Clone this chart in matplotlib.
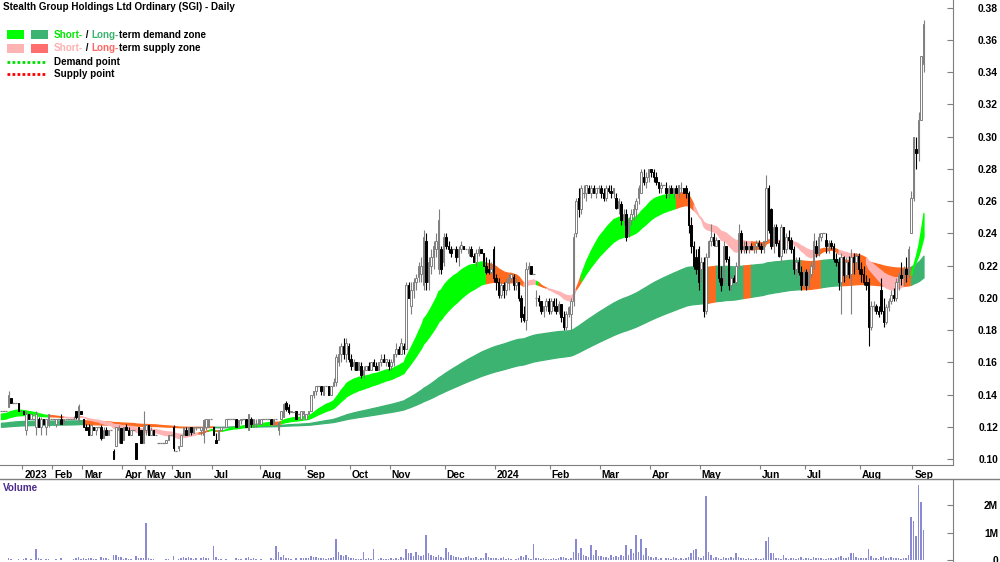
import numpy as np
import matplotlib
matplotlib.use("Agg")
import matplotlib.pyplot as plt
import matplotlib.transforms as mtransforms
from matplotlib.patches import Rectangle
from matplotlib.lines import Line2D

plt.rcParams['font.family'] = ['Liberation Sans', 'DejaVu Sans']
FS = 7.4      # axis labels
FS_TXT = 7.1  # title and legend

title = "Stealth Group Holdings Ltd Ordinary (SGI) - Daily"
month_labels = ["", "2023", "Feb", "Mar", "Apr", "May", "Jun", "Jul", "Aug", "Sep", "Oct",
                "Nov", "Dec", "2024", "Feb", "Mar", "Apr", "May", "Jun", "Jul", "Aug", "Sep"]
bars_per_month = [9, 12, 12, 16, 9, 11, 16, 19, 18, 18, 16, 22, 20, 22, 20, 20, 20, 24, 18, 22, 21, 5]

# prices in thousandths of a dollar, one row per month
opens = [
    130, 130, 130, 132, 138, 135, 135, 135, 130,
    130, 118, 128, 125, 125, 120, 125, 120, 125, 120, 122, 125,
    125, 122, 125, 125, 122, 125, 125, 125, 125, 130, 124, 130,
    125, 120, 120, 115, 120, 118, 120, 120, 113, 118, 115, 118, 105, 108, 118, 119,
    112, 120, 118, 115, 118, 110, 120, 118, 110,
    118, 121, 115, 118, 115, 110, 110, 110, 110, 112, 115,
    120, 105, 107, 108, 115, 118, 115, 120, 116, 120, 120, 118, 115, 120, 120, 125,
    120, 112, 112, 118, 120, 120, 125, 125, 125, 125, 120, 124, 125, 125, 118, 125, 120, 122, 122,
    122, 125, 125, 125, 125, 122, 125, 118, 125, 126, 135, 132, 129, 129, 130, 128, 125, 128,
    125, 128, 130, 140, 142, 145, 145, 140, 145, 145, 140, 145, 148, 160, 165, 170, 165, 170,
    162, 158, 160, 155, 158, 152, 155, 158, 155, 160, 158, 155, 160, 162, 160, 160,
    158, 160, 165, 168, 165, 170, 168, 208, 195, 205, 210, 213, 215, 208, 235, 210, 220, 225, 230, 218, 230, 222,
    238, 232, 230, 230, 230, 225, 230, 232, 230, 228, 230, 226, 222, 228, 230, 228, 220, 218, 216, 230,
    212, 210, 202, 208, 205, 210, 212, 213, 208, 210, 200, 190, 186, 218, 220, 215, 200, 200, 198, 192, 195, 198,
    192, 198, 195, 192, 196, 188, 182, 190, 190, 198, 240, 262, 255, 265, 265, 268, 265, 268, 265, 268,
    268, 265, 262, 268, 266, 265, 262, 256, 258, 248, 252, 240, 248, 252, 255, 262, 265, 275, 272, 275,
    280, 278, 275, 272, 268, 270, 268, 265, 268, 265, 268, 265, 268, 268, 268, 265, 245, 232, 225, 230,
    218, 222, 192, 225, 235, 238, 232, 236, 212, 210, 232, 224, 208, 212, 210, 220, 240, 230, 232, 230, 232, 230, 232, 234,
    232, 230, 235, 268, 255, 232, 244, 234, 226, 244, 230, 238, 236, 230, 218, 222, 216, 208,
    216, 208, 215, 220, 232, 228, 238, 240, 236, 232, 234, 232, 224, 222, 210, 225, 214, 222, 215, 225, 222, 226,
    218, 215, 210, 210, 182, 195, 195, 192, 205, 192, 185, 194, 198, 202, 200, 210, 214, 212, 218, 215, 240,
    262, 292, 290, 310, 345,
]
highs = [
    130, 130, 130, 142, 138, 135, 135, 135, 130,
    130, 130, 128, 128, 125, 130, 126, 126, 125, 125, 128, 125,
    125, 125, 125, 128, 125, 125, 125, 125, 127, 130, 134, 130,
    125, 122, 122, 122, 120, 120, 120, 121, 120, 120, 118, 118, 106, 120, 121, 119,
    120, 122, 120, 118, 118, 110, 120, 118, 130,
    121, 121, 120, 118, 115, 110, 110, 110, 112, 115, 115,
    121, 105, 108, 115, 120, 120, 120, 120, 120, 120, 120, 120, 125, 125, 125, 125,
    120, 116, 118, 120, 120, 125, 125, 125, 125, 125, 124, 125, 125, 125, 128, 126, 125, 125, 125,
    125, 125, 125, 125, 125, 125, 125, 123, 130, 135, 136, 134, 130, 129, 130, 128, 130, 130,
    128, 130, 140, 142, 145, 145, 145, 145, 145, 145, 145, 150, 165, 170, 172, 175, 175, 172,
    165, 162, 160, 160, 160, 158, 158, 160, 160, 162, 160, 160, 165, 165, 162, 162,
    162, 165, 172, 170, 175, 172, 210, 210, 210, 212, 215, 222, 225, 242, 240, 225, 230, 235, 240, 255, 232, 240,
    240, 235, 232, 230, 232, 232, 235, 232, 230, 232, 232, 228, 230, 232, 230, 228, 225, 224, 222, 232,
    215, 212, 210, 210, 212, 215, 215, 215, 212, 210, 202, 195, 222, 222, 220, 215, 205, 202, 198, 195, 200, 200,
    200, 200, 200, 198, 196, 192, 192, 195, 200, 240, 262, 268, 270, 270, 270, 270, 270, 270, 268, 270,
    270, 268, 270, 270, 270, 268, 265, 262, 260, 255, 255, 250, 255, 258, 262, 270, 280, 280, 278, 280,
    280, 280, 278, 272, 272, 270, 272, 270, 270, 268, 270, 270, 272, 268, 270, 266, 250, 235, 230, 232,
    225, 225, 228, 236, 246, 240, 238, 236, 220, 235, 232, 226, 214, 214, 222, 246, 242, 235, 235, 232, 234, 232, 236, 236,
    234, 235, 276, 270, 256, 246, 246, 236, 246, 244, 240, 242, 238, 232, 225, 225, 220, 218,
    218, 218, 222, 240, 236, 240, 240, 240, 240, 236, 236, 234, 228, 225, 228, 226, 225, 226, 230, 228, 228, 228,
    222, 220, 214, 212, 198, 198, 196, 195, 212, 200, 196, 200, 205, 206, 212, 216, 222, 220, 225, 232, 266,
    300, 300, 315, 350, 372,
]
lows = [
    130, 130, 130, 132, 135, 135, 135, 130, 130,
    128, 115, 125, 125, 125, 115, 120, 115, 122, 115, 120, 125,
    125, 120, 125, 122, 122, 125, 125, 125, 125, 125, 123, 128,
    120, 118, 115, 115, 118, 115, 120, 112, 113, 115, 115, 118, 100, 108, 110, 110,
    112, 118, 115, 115, 118, 100, 115, 110, 110,
    115, 115, 115, 115, 115, 110, 110, 110, 110, 112, 115,
    105, 105, 105, 108, 115, 115, 115, 115, 116, 118, 120, 115, 110, 118, 120, 125,
    115, 110, 112, 118, 120, 120, 125, 125, 125, 120, 120, 122, 125, 120, 118, 120, 120, 120, 122,
    122, 125, 125, 125, 122, 122, 125, 115, 125, 126, 130, 128, 129, 129, 125, 128, 125, 126,
    125, 128, 130, 138, 140, 145, 140, 140, 145, 140, 140, 145, 145, 158, 160, 162, 160, 160,
    155, 155, 155, 155, 150, 150, 155, 155, 155, 158, 155, 155, 158, 160, 158, 155,
    155, 158, 163, 165, 165, 165, 168, 200, 190, 200, 205, 210, 210, 205, 205, 205, 215, 218, 225, 215, 215, 220,
    230, 228, 225, 230, 222, 220, 228, 230, 230, 226, 225, 222, 220, 226, 228, 220, 215, 215, 215, 210,
    205, 200, 200, 200, 202, 205, 210, 205, 205, 198, 185, 185, 180, 215, 215, 215, 195, 195, 190, 188, 192, 190,
    190, 192, 190, 190, 185, 180, 180, 188, 180, 195, 238, 250, 252, 262, 260, 265, 262, 265, 262, 265,
    262, 260, 260, 265, 262, 262, 255, 252, 245, 245, 235, 238, 245, 248, 250, 258, 265, 270, 268, 272,
    275, 272, 270, 265, 265, 270, 262, 262, 265, 262, 265, 262, 265, 265, 262, 240, 228, 218, 215, 205,
    210, 188, 190, 225, 232, 232, 232, 210, 204, 208, 222, 205, 204, 210, 208, 218, 228, 228, 228, 228, 230, 228, 228, 230,
    228, 228, 235, 240, 230, 228, 232, 225, 222, 228, 228, 230, 228, 215, 212, 214, 205, 206,
    205, 206, 212, 218, 225, 226, 235, 240, 228, 228, 230, 222, 220, 205, 190, 210, 212, 212, 190, 215, 218, 215,
    210, 208, 205, 170, 180, 192, 190, 188, 190, 182, 184, 192, 196, 198, 198, 205, 208, 208, 210, 212, 240,
    260, 280, 285, 310, 340,
]
closes = [
    130, 130, 130, 140, 135, 135, 135, 130, 130,
    128, 128, 125, 128, 125, 128, 120, 125, 122, 125, 128, 125,
    125, 125, 125, 122, 125, 125, 125, 125, 125, 126, 133, 128,
    120, 118, 115, 121, 118, 120, 120, 113, 118, 115, 118, 118, 100, 120, 120, 110,
    120, 118, 115, 118, 118, 100, 115, 110, 120,
    121, 115, 118, 115, 115, 110, 110, 110, 112, 115, 115,
    107, 105, 108, 115, 120, 115, 120, 117, 120, 120, 120, 120, 124, 125, 125, 125,
    115, 110, 118, 120, 120, 125, 125, 125, 125, 120, 124, 125, 125, 120, 128, 122, 125, 122, 125,
    125, 125, 125, 125, 122, 125, 125, 123, 130, 134, 131, 129, 130, 129, 125, 128, 130, 130,
    128, 130, 140, 142, 145, 145, 142, 145, 145, 140, 145, 148, 163, 165, 170, 165, 172, 162,
    158, 160, 155, 160, 152, 155, 158, 155, 160, 158, 155, 160, 162, 160, 162, 158,
    160, 165, 168, 165, 172, 168, 208, 200, 205, 210, 212, 220, 220, 238, 210, 222, 225, 232, 235, 248, 218, 238,
    232, 230, 228, 230, 225, 230, 233, 230, 230, 230, 226, 222, 228, 230, 228, 220, 216, 216, 218, 212,
    210, 202, 208, 205, 210, 212, 215, 208, 210, 200, 188, 186, 218, 220, 215, 215, 200, 198, 192, 195, 198, 192,
    198, 195, 192, 196, 188, 182, 190, 194, 198, 238, 260, 255, 268, 265, 270, 265, 268, 265, 268, 268,
    265, 262, 268, 266, 265, 268, 256, 260, 248, 252, 238, 248, 252, 255, 260, 268, 278, 272, 275, 280,
    278, 275, 272, 268, 270, 270, 265, 268, 265, 268, 265, 270, 268, 265, 265, 245, 232, 220, 218, 210,
    222, 192, 225, 235, 238, 233, 236, 212, 208, 232, 224, 208, 212, 210, 220, 240, 230, 232, 230, 232, 230, 232, 234, 232,
    230, 235, 268, 242, 232, 244, 234, 226, 244, 230, 238, 236, 230, 218, 222, 216, 208, 216,
    208, 215, 220, 235, 228, 238, 240, 240, 232, 234, 232, 224, 222, 210, 225, 214, 222, 215, 225, 222, 226, 218,
    215, 210, 208, 182, 195, 195, 192, 190, 192, 185, 194, 198, 202, 200, 210, 214, 212, 218, 215, 230, 262,
    300, 290, 310, 350, 370,
]
# volume in thousands of shares
volume_k = [
    20, 10, 15, 60, 30, 10, 5, 40, 10,
    30, 80, 20, 40, 10, 400, 60, 30, 20, 50, 40, 10,
    10, 30, 10, 60, 20, 10, 10, 10, 30, 70, 120, 40,
    60, 40, 80, 60, 30, 50, 20, 100, 90, 60, 40, 10, 200, 180, 100, 120,
    50, 60, 40, 30, 10, 150, 60, 70, 90,
    1350, 80, 40, 30, 20, 10, 10, 10, 30, 40, 20,
    150, 10, 40, 60, 120, 80, 100, 60, 40, 60, 20, 80, 120, 90, 60, 10,
    500, 100, 40, 30, 10, 40, 10, 10, 10, 60, 40, 30, 10, 60, 120, 40, 60, 30, 20,
    40, 10, 10, 10, 60, 40, 500, 300, 120, 200, 90, 60, 30, 10, 80, 20, 60, 70,
    80, 60, 150, 120, 100, 60, 90, 60, 40, 60, 80, 120, 760, 300, 200, 150, 180, 100,
    80, 60, 40, 30, 50, 300, 40, 60, 30, 400, 20, 40, 60, 30, 50, 40,
    60, 40, 80, 50, 120, 60, 400, 250, 250, 150, 300, 180, 150, 200, 900, 250, 200, 150, 120, 180, 100, 80,
    450, 300, 200, 150, 100, 120, 80, 60, 100, 150, 80, 60, 100, 40, 60, 80, 250, 100, 60, 80,
    60, 40, 80, 100, 30, 60, 40, 20, 40, 80, 150, 100, 200, 60, 40, 600, 80, 60, 40, 60, 30, 40,
    40, 60, 30, 80, 120, 100, 60, 40, 80, 300, 770, 250, 450, 200, 150, 120, 550, 200, 350, 150,
    150, 100, 120, 80, 200, 100, 150, 120, 200, 150, 550, 200, 400, 250, 900, 300, 750, 200, 450, 150,
    120, 60, 100, 40, 60, 20, 80, 60, 40, 100, 60, 30, 80, 40, 60, 120, 250, 350, 400, 100,
    60, 150, 2330, 300, 200, 80, 100, 60, 40, 120, 60, 80, 100, 60, 250, 120, 60, 80, 40, 60, 40, 30, 60, 40,
    40, 60, 700, 840, 250, 250, 80, 60, 40, 200, 60, 40, 80, 60, 40, 60, 100, 50,
    60, 80, 40, 100, 60, 80, 60, 30, 40, 60, 80, 40, 60, 100, 150, 80, 60, 100, 250, 250, 100, 60,
    60, 80, 60, 400, 150, 60, 80, 40, 100, 150, 80, 60, 100, 60, 80, 60, 40, 60, 80, 200, 1560,
    1420, 870, 2720, 2100, 1090,
]

# zone averages (EMA spans) and their values at the first bar
short_spans = (24, 45)
long_spans = (150, 250)
short_seed = (0.1282, 0.1247)
long_seed = (0.1225, 0.1200)

# zone colour states: (first bar, last bar, state)
short_states = [(0, 18, 'demand'), (19, 24, 'turn'), (25, 78, 'supply'), (79, 82, 'turn'),
                (83, 85, 'demand'), (86, 87, 'turn'), (88, 107, 'demand'), (108, 111, 'turn'),
                (112, 193, 'demand'), (194, 208, 'turn'), (209, 213, 'supply'), (214, 214, 'demand'),
                (215, 217, 'turn'), (218, 229, 'supply'), (230, 231, 'turn'), (232, 269, 'demand'),
                (270, 276, 'turn'), (277, 299, 'supply'), (300, 308, 'turn'), (309, 325, 'supply'),
                (326, 334, 'turn'), (335, 340, 'supply'), (341, 345, 'turn'), (346, 360, 'supply'),
                (361, 363, 'turn'), (364, 369, 'demand')]
long_states = [(0, 32, 'demand'), (33, 84, 'turn'), (85, 282, 'demand'), (283, 285, 'turn'),
               (286, 296, 'demand'), (297, 299, 'turn'), (300, 319, 'demand'), (320, 327, 'turn'),
               (328, 335, 'demand'), (336, 363, 'turn'), (364, 369, 'demand')]

BRIGHT = '#00FF00'
DARK = '#3CB371'
PINK = '#FFB4B4'
SALMON = '#FF6E6E'
ORANGE = '#FF6A1F'
short_colors = {'demand': BRIGHT, 'turn': ORANGE, 'supply': PINK}
long_colors = {'demand': DARK, 'turn': ORANGE, 'supply': SALMON}

o = np.array(opens) / 1000
h = np.array(highs) / 1000
l = np.array(lows) / 1000
c = np.array(closes) / 1000
vol = np.array(volume_k) * 1000.0
n = len(c)
idx = np.arange(n)
assert len(o) == len(h) == len(l) == n == len(vol) == sum(bars_per_month)


def ema(values, span, seed):
    a = 2.0 / (span + 1)
    out = np.empty(len(values))
    prev = seed
    for i, v in enumerate(values):
        if i:
            prev = prev + a * (v - prev)
        out[i] = prev
    return out


s_fast = ema(c, short_spans[0], short_seed[0])
s_slow = ema(c, short_spans[1], short_seed[1])
l_fast = ema(c, long_spans[0], long_seed[0])
l_slow = ema(c, long_spans[1], long_seed[1])

fig = plt.figure(figsize=(10, 5.62), dpi=100)
ax = fig.add_axes([0, 1 - 465 / 562, 0.953, 465 / 562])
axv = fig.add_axes([0, 0, 0.953, 83 / 562])
GRAY = '#7f7f7f'


def draw_band(lo, hi, states, colors, z):
    for s, e, st in states:
        sl = slice(s, min(e + 2, n))
        ax.fill_between(idx[sl], lo[sl], hi[sl], facecolor=colors[st],
                        edgecolor=colors[st], lw=0.9, zorder=z)


draw_band(np.minimum(l_fast, l_slow), np.maximum(l_fast, l_slow), long_states, long_colors, 1)
draw_band(np.minimum(s_fast, s_slow), np.maximum(s_fast, s_slow), short_states, short_colors, 2)

# candles
up = c > o
down = c < o
flat = c == o
wick_col = np.where(down, 'black', GRAY)
ax.vlines(idx, l, h, colors=list(wick_col), lw=0.8, zorder=3)
bot = np.minimum(o, c)
hgt = np.abs(c - o)
ax.bar(idx[up], hgt[up], bottom=bot[up], width=0.62, facecolor='white',
       edgecolor=GRAY, lw=0.7, zorder=4)
ax.bar(idx[down], hgt[down], bottom=bot[down], width=0.62, facecolor='black',
       edgecolor='black', lw=0.7, zorder=4)
ax.hlines(c[flat], idx[flat] - 0.55, idx[flat] + 0.55, colors=GRAY, lw=0.9, zorder=4)

ax.set_xlim(-0.4, 380.8)
ax.set_ylim(0.0963, 0.3847)
for sp in ['top', 'left']:
    ax.spines[sp].set_visible(False)
for sp in ['right', 'bottom']:
    ax.spines[sp].set_color(GRAY)

ax.yaxis.tick_right()
yt = np.arange(0.10, 0.381, 0.02)
ax.set_yticks(yt)
ax.set_yticklabels([f"{v:.2f}" for v in yt], fontsize=FS, fontweight='bold')
ax.tick_params(axis='y', direction='in', length=4, color=GRAY, labelcolor='black', pad=32.4)
for lbl in ax.get_yticklabels():
    lbl.set_horizontalalignment('right')

starts = np.concatenate([[0], np.cumsum(bars_per_month)[:-1]])
ax.set_xticks(starts[1:] - 0.5)
ax.set_xticklabels(month_labels[1:], ha='left', fontsize=FS, fontweight='bold')
ax.tick_params(axis='x', direction='out', length=3, color=GRAY, labelcolor='black', pad=0.5)
shift = mtransforms.ScaledTranslation(1.5 / 72, 0, fig.dpi_scale_trans)
for lbl in ax.get_xticklabels():
    lbl.set_transform(lbl.get_transform() + shift)

# volume panel
axv.bar(idx, vol, width=0.45, color='#8A8AD2', lw=0)
axv.set_xlim(-0.4, 380.8)
axv.set_ylim(-0.07e6, 2.95e6)
for sp in ['top', 'left', 'bottom']:
    axv.spines[sp].set_visible(False)
axv.spines['right'].set_color(GRAY)
axv.set_xticks([])
axv.yaxis.tick_right()
axv.set_yticks([0, 1e6, 2e6])
axv.set_yticklabels(['0', '1M', '2M'], fontsize=FS, fontweight='bold')
axv.tick_params(axis='y', direction='in', length=4, color=GRAY, labelcolor='black', pad=32.4)
for lbl in axv.get_yticklabels():
    lbl.set_horizontalalignment('right')

fig.add_artist(Line2D([0, 1], [1 - 479 / 562] * 2, transform=fig.transFigure, color=GRAY, lw=1))


def fp(x, y):
    return (x / 1000, 1 - y / 562)


fig.text(*fp(3, 2), title, va='top', fontsize=FS_TXT, fontweight='bold')
fig.text(*fp(3, 483), 'Volume', va='top', fontsize=FS_TXT, fontweight='bold', color='#4B2A8C')

# legend
for x0, col in [(7, BRIGHT), (31, DARK)]:
    fig.add_artist(Rectangle(fp(x0, 39), 17 / 1000, 9 / 562, transform=fig.transFigure,
                             facecolor=col, edgecolor='none'))
for x0, col in [(7, PINK), (31, SALMON)]:
    fig.add_artist(Rectangle(fp(x0, 53), 17 / 1000, 9 / 562, transform=fig.transFigure,
                             facecolor=col, edgecolor='none'))
fig.add_artist(Line2D([7 / 1000, 45 / 1000], [1 - 62 / 562] * 2, transform=fig.transFigure,
                      color='#00DD00', lw=2, linestyle=(0, (1, 0.8))))
fig.add_artist(Line2D([7 / 1000, 45 / 1000], [1 - 74 / 562] * 2, transform=fig.transFigure,
                      color='#FF0000', lw=2, linestyle=(0, (1, 0.8))))


def colored_line(x, y, pieces):
    prev = fig.text(*fp(x, y), pieces[0][0], color=pieces[0][1], va='center',
                    fontsize=FS_TXT, fontweight='bold')
    for txt, col in pieces[1:]:
        prev = ax.annotate(txt, xy=(1, 0), xycoords=prev, va='bottom', ha='left',
                           color=col, fontsize=FS_TXT, fontweight='bold', annotation_clip=False)


colored_line(54, 35, [('Short-', '#00E600'), (' / ', 'black'), ('Long-', DARK),
                      ('term demand zone', 'black')])
colored_line(54, 48, [('Short-', '#FFB0B0'), (' / ', 'black'), ('Long-', '#FF6666'),
                      ('term supply zone', 'black')])
colored_line(54, 62, [('Demand point', 'black')])
colored_line(54, 74, [('Supply point', 'black')])

fig.savefig('out.png', dpi=100)
